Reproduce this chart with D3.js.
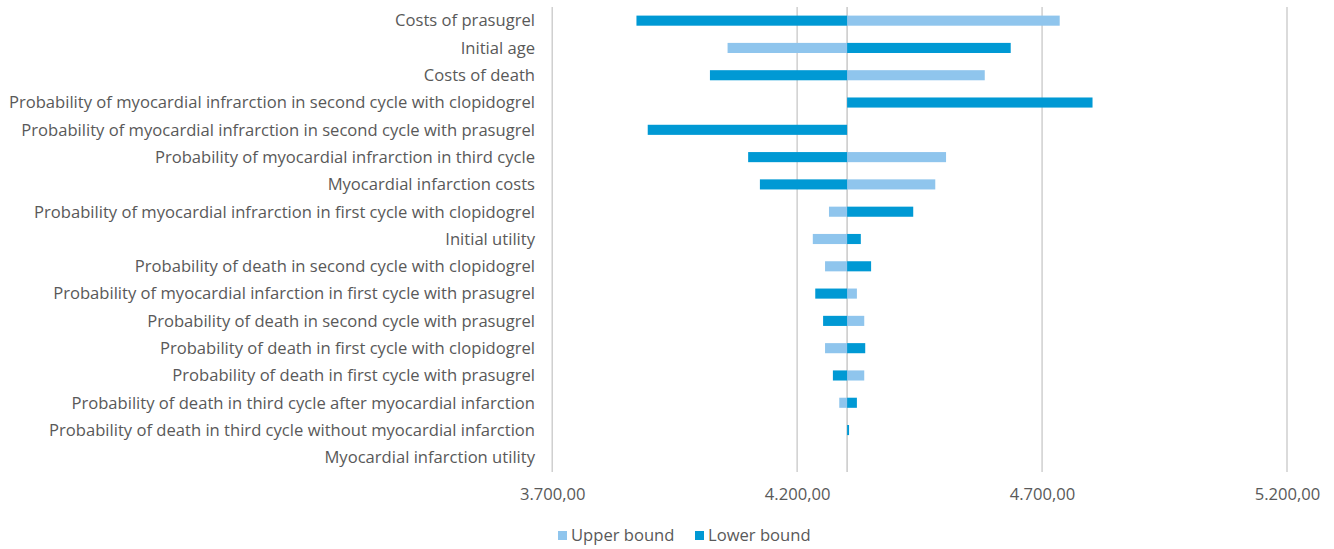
<!DOCTYPE html>
<html>
<head>
<meta charset="utf-8">
<script src="https://cdn.jsdelivr.net/npm/d3@7/dist/d3.min.js"></script>
<style>
  html, body { margin: 0; padding: 0; background: #fff; }
  svg { display: block; font-family: "Open Sans", sans-serif; }
</style>
</head>
<body>
<svg id="chart" width="1334" height="549"></svg>
<script>
const categories = [
  "Costs of prasugrel ",
  "Initial age",
  "Costs of death",
  "Probability of myocardial infrarction in second cycle with clopidogrel",
  "Probability of myocardial infrarction in second cycle with prasugrel",
  "Probability of myocardial infrarction in third cycle",
  "Myocardial infarction costs",
  "Probability of myocardial infrarction in first cycle with clopidogrel",
  "Initial utility",
  "Probability of death in second cycle with clopidogrel",
  "Probability of myocardial infarction in first cycle with prasugrel",
  "Probability of death in second cycle with prasugrel",
  "Probability of death in first cycle with clopidogrel",
  "Probability of death in first cycle with prasugrel",
  "Probability of death in third cycle after myocardial infarction",
  "Probability of death in third cycle without myocardial infarction",
  "Myocardial infarction utility"
];
const baseValue = 4302;
const upperBound = [4736, 4058, 4583, 4302, 4302, 4504, 4482, 4265, 4232, 4257, 4322, 4337, 4257, 4337, 4286, 4302, 4302];
const lowerBound = [3872, 4636, 4022, 4803, 3895, 4100, 4124, 4437, 4330, 4351, 4237, 4253, 4339, 4273, 4322, 4306, 4302];
const tickValues = [3700, 4200, 4700, 5200];
const seriesNames = ["Upper bound", "Lower bound"];
const colors = { "Upper bound": "#8FC5ED", "Lower bound": "#0099D4" };

const svg = d3.select("#chart");
const x = d3.scaleLinear().domain([3700, 5200]).range([552.2, 1287]);
const y = d3.scaleBand().domain(categories).range([7, 471]).paddingInner(0.63).paddingOuter(0.315);

const fmt = v => d3.format(",.2f")(v).replace(/,/g, "#").replace(/\./g, ",").replace(/#/g, ".");

// gridlines
svg.append("g").selectAll("line").data(tickValues).join("line")
  .attr("x1", d => x(d)).attr("x2", d => x(d))
  .attr("y1", 7).attr("y2", 472)
  .attr("stroke", "#C8C8C8").attr("stroke-width", 1.3);

// base line
svg.append("line")
  .attr("x1", x(baseValue)).attr("x2", x(baseValue))
  .attr("y1", 7).attr("y2", 472)
  .attr("stroke", "#C0C0C0").attr("stroke-width", 1.3);

const rows = categories.map((c, i) => ({ c, up: upperBound[i], lo: lowerBound[i] }));

function drawSeries(key, name) {
  svg.append("g").selectAll("rect").data(rows).join("rect")
    .attr("x", d => Math.min(x(d[key]), x(baseValue)))
    .attr("width", d => Math.abs(x(d[key]) - x(baseValue)))
    .attr("y", d => y(d.c))
    .attr("height", y.bandwidth())
    .attr("fill", colors[name]);
}
drawSeries("up", "Upper bound");
drawSeries("lo", "Lower bound");

const fs = 16.6;
// category labels
svg.append("g").selectAll("text").data(categories).join("text")
  .attr("x", 535)
  .attr("y", d => y(d) + y.bandwidth() / 2)
  .attr("dy", "0.35em")
  .attr("text-anchor", "end")
  .attr("font-size", fs)
  .attr("fill", "#595959")
  .text(d => d);

// x axis labels
const xAxis = d3.axisBottom(x).tickValues(tickValues).tickSize(0).tickFormat(fmt);
const gx = svg.append("g").attr("transform", "translate(0,485)").call(xAxis);
gx.select(".domain").remove();
gx.selectAll("text").attr("font-size", fs).attr("fill", "#595959").attr("font-family", "Open Sans, sans-serif");

// legend
const legendX = [558, 695];
const lg = svg.append("g").selectAll("g").data(seriesNames).join("g")
  .attr("transform", (d, i) => `translate(${legendX[i]},531)`);
lg.append("rect").attr("width", 9).attr("height", 9).attr("fill", d => colors[d]);
lg.append("text").attr("x", 13).attr("y", 4.5).attr("dy", "0.35em")
  .attr("font-size", fs).attr("fill", "#595959").text(d => d);
</script>
</body>
</html>
